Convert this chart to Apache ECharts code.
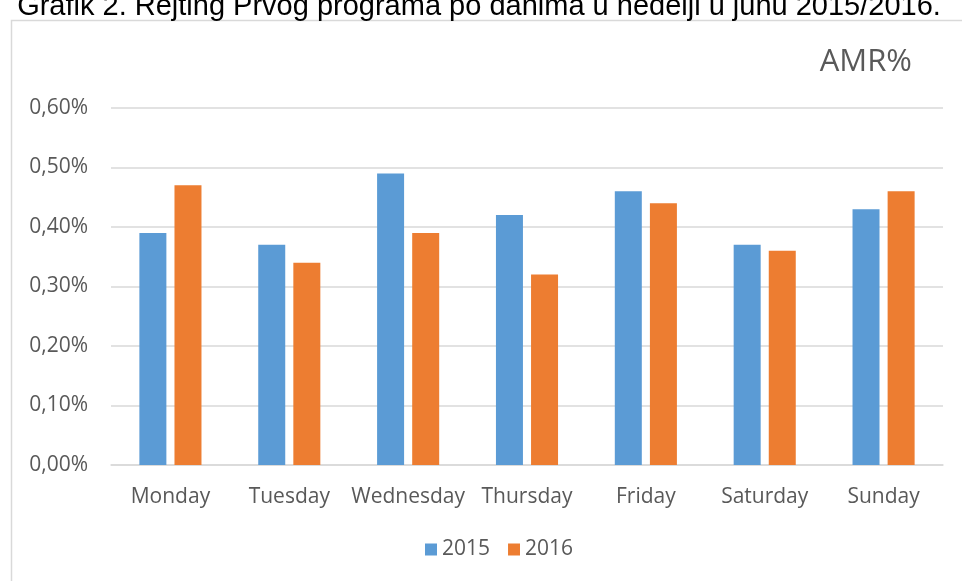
<!DOCTYPE html>
<html lang="sr">
  <head>
    <meta charset="UTF-8" />
    <title>AMR%</title>
    <style>
      html, body { margin: 0; padding: 0; background: #fff; }
      #chart { width: 962px; height: 581px; }
    </style>
  </head>
  <body>
    <div id="chart"></div>
    <script src="https://cdn.jsdelivr.net/npm/echarts@6/dist/echarts.min.js"></script>
    <script>
      const days = ["Monday", "Tuesday", "Wednesday", "Thursday", "Friday", "Saturday", "Sunday"];
      const amr2015 = [0.39, 0.37, 0.49, 0.42, 0.46, 0.37, 0.43];
      const amr2016 = [0.47, 0.34, 0.39, 0.32, 0.44, 0.36, 0.46];
      const seriesNames = ["2015", "2016"];

      const font = "'Open Sans', 'Noto Sans', sans-serif";
      const myChart = echarts.init(document.querySelector("#chart"));

      const option = {
        animation: false,
        textStyle: { fontFamily: font },
        title: {
          text: "AMR%",
          right: 45,
          top: 42,
          textStyle: { fontSize: 31, fontWeight: "normal", color: "#595959", fontFamily: font }
        },
        graphic: [
          {
            type: "rect",
            shape: { x: 11.5, y: 20.5, width: 1000, height: 700 },
            style: { fill: "none", stroke: "#d9d9d9", lineWidth: 1.5 }
          },
          {
            type: "text",
            x: 479,
            y: 7,
            style: {
              text: "Grafik 2. Rejting Prvog programa po danima u nedelji u junu 2015/2016.",
              fontSize: 29,
              fontFamily: "'Liberation Sans', Arial, sans-serif",
              fill: "#000",
              align: "center",
              verticalAlign: "middle"
            }
          }
        ],
        legend: {
          data: seriesNames,
          bottom: 16,
          left: 420,
          itemWidth: 12,
          itemHeight: 12,
          itemGap: 18,
          icon: "rect",
          textStyle: { fontSize: 21, color: "#595959", fontFamily: font }
        },
        grid: { left: 111, right: 19, top: 108, bottom: 116 },
        xAxis: {
          type: "category",
          data: days,
          axisLine: { lineStyle: { color: "#d9d9d9", width: 1.5 } },
          axisTick: { show: false },
          axisLabel: {
            interval: 0,
            hideOverlap: false,
            fontSize: 21,
            color: "#595959",
            margin: 22,
            fontFamily: font
          }
        },
        yAxis: {
          type: "value",
          min: 0,
          max: 0.6,
          interval: 0.1,
          axisLine: { show: false },
          axisTick: { show: false },
          splitLine: { lineStyle: { color: "#d9d9d9", width: 1.5 } },
          axisLabel: {
            fontSize: 21,
            color: "#595959",
            margin: 23,
            fontFamily: font,
            formatter: (v) => v.toFixed(2).replace(".", ",") + "%"
          }
        },
        series: [
          {
            name: seriesNames[0],
            type: "bar",
            data: amr2015,
            barWidth: 27,
            barGap: "30%",
            itemStyle: { color: "#5b9bd5" }
          },
          {
            name: seriesNames[1],
            type: "bar",
            data: amr2016,
            barWidth: 27,
            barGap: "30%",
            itemStyle: { color: "#ed7d31" }
          }
        ]
      };
      myChart.setOption(option);
    </script>
  </body>
</html>
